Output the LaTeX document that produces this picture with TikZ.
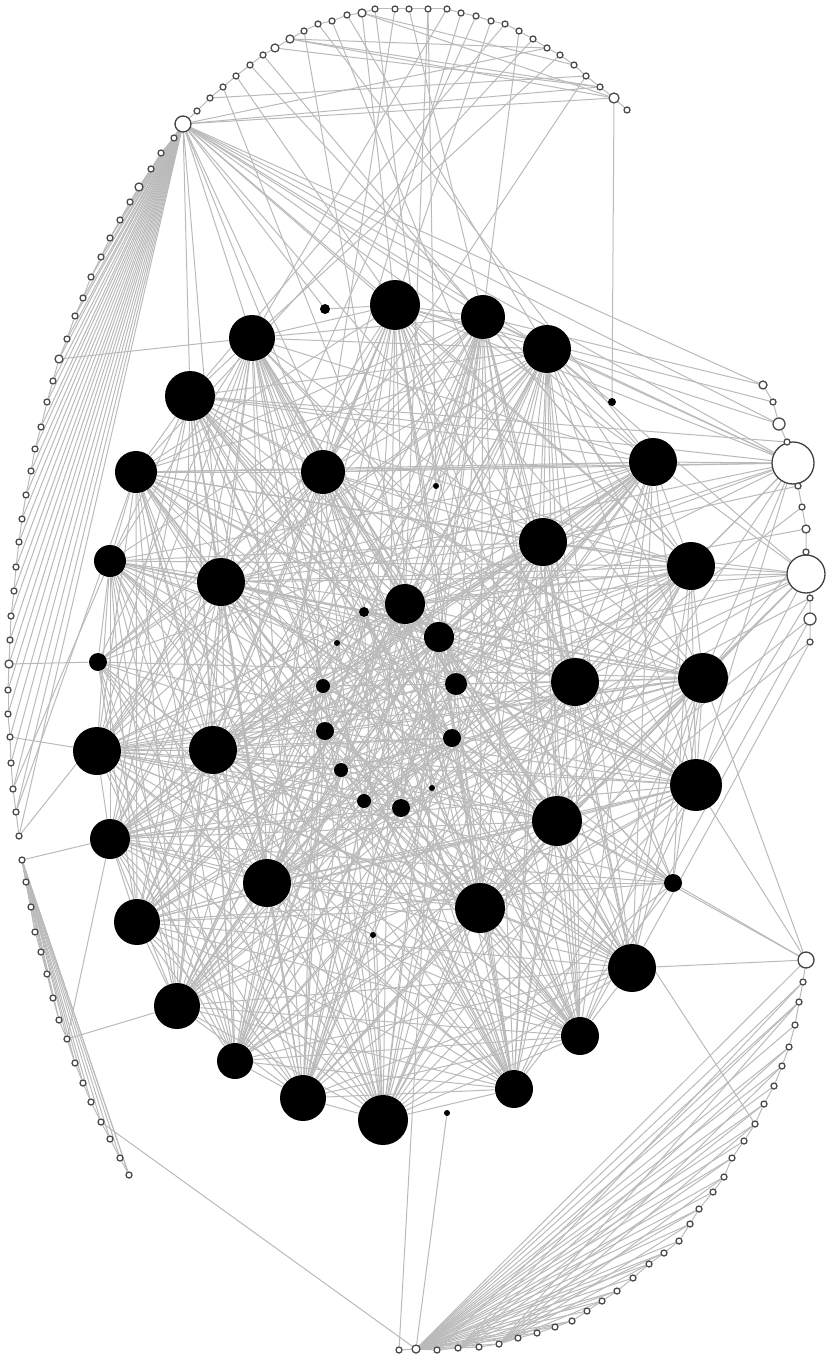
\documentclass[tikz,border=0pt]{standalone}
\usepackage{tikz}
\usetikzlibrary{backgrounds}

\begin{document}
\begin{tikzpicture}[x=0.5pt,y=-0.5pt,
  core/.style={circle,fill=black,draw=none,inner sep=0pt,minimum size=#1},
  leaf/.style={circle,draw=black!70,fill=white,line width=0.65pt,inner sep=0pt,minimum size=#1},
  hub/.style={circle,draw=black!75,fill=white,line width=0.65pt,inner sep=0pt,minimum size=#1},
  link/.style={draw=black!27,line width=0.5pt}
]
\useasboundingbox (0,0) rectangle (826,1358);

% core (black) nodes: name/x/y/radius
\foreach \n/\x/\y/\r in {1/395/305/25, 2/483/317/22, 3/547/349/24, 4/252/338/23,
  5/190/396/25, 6/136/472/21, 7/323/472/22, 8/653/462/24, 9/543/542/24,
  10/110/561/16, 11/221/582/24, 12/691/566/24, 13/405/604/20, 14/439/637/15,
  15/575/682/24, 16/703/678/25, 17/97/751/24, 18/213/750/24, 19/696/785/26,
  20/557/821/25, 21/110/839/20, 22/267/883/24, 23/480/908/25, 24/137/922/23,
  25/632/968/24, 26/177/1006/23, 27/580/1036/19, 28/235/1061/18, 29/303/1098/23,
  30/514/1089/19, 31/383/1120/25,
  32/456/684/11, 33/98/662/9, 34/452/738/9, 35/401/808/9, 36/325/731/9,
  37/673/883/9, 38/323/686/7, 39/341/770/7, 40/364/801/7, 41/364/612/5,
  42/325/309/5, 43/612/402/4, 44/436/486/3, 45/337/643/3, 46/432/788/3,
  47/373/935/3, 48/447/1113/3}
  \node[core=\r pt] (b\n) at (\x,\y) {};

% white hubs
\node[hub=8pt] (h1) at (183,124) {};
\node[hub=21pt] (h2) at (793,463) {};
\node[hub=19pt] (h3) at (806,574) {};
\node[hub=8pt] (h4) at (806,960) {};

% top arc
\foreach \n/\x/\y/\r in {1/197/111/3, 2/210/98/3, 3/223/87/3, 4/236/76/3, 5/250/65/3,
  6/263/55/3, 7/275/48/4, 8/290/39/4, 9/304/31/3, 10/318/24/3, 11/332/21/3,
  12/347/15/3, 13/362/13/4, 14/375/9/3, 15/395/9/3, 16/409/9/3, 17/428/9/3,
  18/447/9/3, 19/461/13/3, 20/476/16/3, 21/491/21/3, 22/505/24/3, 23/519/31/3,
  24/533/39/3, 25/547/48/3, 26/560/55/3, 27/574/65/3, 28/586/76/3, 29/600/87/3,
  30/614/98/5, 31/627/110/3}
  \node[leaf=\r pt] (t\n) at (\x,\y) {};

% left arc
\foreach \n/\x/\y/\r in {1/174/138/3, 2/161/153/3, 3/151/169/3, 4/139/187/4,
  5/130/202/3, 6/120/220/3, 7/110/238/3, 8/101/257/3, 9/91/277/3, 10/83/298/3,
  11/75/316/3, 12/67/339/3, 13/59/359/4, 14/53/381/3, 15/47/402/3, 16/41/427/3,
  17/35/449/3, 18/31/471/3, 19/26/495/3, 20/22/519/3, 21/19/542/3, 22/16/567/3,
  23/14/591/3, 24/11/616/3, 25/10/640/3, 26/9/664/4, 27/8/690/3, 28/8/714/3,
  29/10/737/3, 30/11/763/3, 31/13/789/3, 32/16/812/3, 33/19/836/3}
  \node[leaf=\r pt] (l\n) at (\x,\y) {};

% lower left arc
\foreach \n/\x/\y in {1/22/860, 2/26/882, 3/31/907, 4/35/932, 5/41/952, 6/47/974,
  7/53/998, 8/59/1020, 9/67/1039, 10/75/1063, 11/83/1083, 12/91/1102,
  13/101/1122, 14/110/1139, 15/120/1158, 16/129/1175}
  \node[leaf=3pt] (s\n) at (\x,\y) {};

% bottom arc
\foreach \n/\x/\y/\r in {1/399/1350/3, 2/416/1349/4, 3/437/1350/3, 4/458/1348/3,
  5/479/1347/3, 6/499/1344/3, 7/518/1338/3, 8/537/1333/3, 9/555/1327/3,
  10/572/1321/3, 11/587/1311/3, 12/602/1301/3, 13/617/1291/3, 14/633/1278/3,
  15/649/1264/3, 16/664/1253/3, 17/679/1241/3, 18/690/1224/3, 19/699/1209/3,
  20/713/1192/3, 21/724/1177/3, 22/732/1158/3, 23/744/1141/3, 24/755/1124/3,
  25/764/1104/3, 26/774/1086/3, 27/782/1066/3, 28/789/1047/3, 29/795/1025/3,
  30/799/1002/3, 31/803/982/3}
  \node[leaf=\r pt] (u\n) at (\x,\y) {};

% right column
\foreach \n/\x/\y/\r in {1/763/385/4, 2/773/402/3, 3/779/424/6, 4/787/442/3,
  5/798/486/3, 6/802/507/3, 7/806/529/4, 8/806/552/3, 9/810/598/3,
  10/810/619/6, 11/810/642/3}
  \node[leaf=\r pt] (r\n) at (\x,\y) {};

\begin{scope}[on background layer]
\pgfmathsetseed{314}
% dense core
\foreach \i in {1,...,30}{
  \pgfmathtruncatemacro\js{\i+1}
  \foreach \j in {\js,...,31}{
    \pgfmathtruncatemacro\hit{rnd<0.88}
    \ifnum\hit=1 \draw[link] (b\i) -- (b\j); \fi
  }}
\foreach \i in {32,...,41}{
  \foreach \j in {1,...,31}{
    \pgfmathtruncatemacro\hit{rnd<0.45}
    \ifnum\hit=1 \draw[link] (b\i) -- (b\j); \fi
  }}

% arcs
\foreach \i in {1,...,30}{\pgfmathtruncatemacro\k{\i+1}\draw[link] (t\i) -- (t\k);}
\foreach \i in {1,...,32}{\pgfmathtruncatemacro\k{\i+1}\draw[link] (l\i) -- (l\k);}
\foreach \i in {1,...,15}{\pgfmathtruncatemacro\k{\i+1}\draw[link] (s\i) -- (s\k);}
\foreach \i in {1,...,30}{\pgfmathtruncatemacro\k{\i+1}\draw[link] (u\i) -- (u\k);}
\draw[link] (h1) -- (t1) (h1) -- (l1) (u31) -- (h4);
\draw[link] (r1) -- (r2) -- (r3) -- (r4) -- (h2) -- (r5) -- (r6) -- (r7) -- (r8)
  -- (h3) -- (r9) -- (r10) -- (r11);

% fans
\foreach \i in {3,...,33} \draw[link] (h1) -- (l\i);
\foreach \i in {3,...,16} \draw[link] (s1) -- (s\i);
\foreach \i in {5,...,31} \draw[link] (u2) -- (u\i);
\foreach \i in {10,13,...,31} \draw[link] (u4) -- (u\i);
\foreach \i in {12,15,...,30} \draw[link] (u6) -- (u\i);

% hub links
\foreach \a/\b in {h1/b5, h1/b1, h1/b2, h1/b3, h1/b4, h1/b7, h1/b8, h1/b9,
  h1/b12, h1/b13, h1/b11, h1/b42, h1/r1, h1/r3, h1/h2, h1/t29, h1/t30, h1/t25,
  h2/b8, h2/b3, h2/b2, h2/b1, h2/b9, h2/b12, h2/b15, h2/b16, h2/b7, h2/b11,
  h2/b13, h2/b5, h2/b6, h2/b14, h2/b19, h2/b20,
  h3/b12, h3/b16, h3/b15, h3/b9, h3/b19, h3/b13, h3/b11, h3/b17, h3/b8,
  h3/b3, h3/b20, h3/b23, h3/b22, h3/b18,
  h4/b19, h4/b37, h4/b25, h4/b20, h4/b16, h4/u2, u30/u3, b20/u24,
  r1/b2, r2/b1, r3/b3, r4/b5, r5/b9, r6/b15, r7/b13, r8/b16, r9/b19,
  r10/b20, r11/b23, r11/b25, r10/b27, r9/b22}
  \draw[link] (\a) -- (\b);

% top arc to core
\foreach \a/\b in {t8/t30, t7/t29, t8/t29, t13/t30, t2/t28, t13/t27, t8/t25,
  t13/b1, t14/b44, t15/b7, t16/b2, t17/b44, t17/b13, t18/b4, t19/b7, t20/b11,
  t21/b1, t22/b5, t23/b2, t24/b6, t12/b3, t11/b9, t10/b8, t9/b13, t6/b12,
  t5/b2, t26/b4, t28/b7, t4/b1, t3/b14, t30/b43}
  \draw[link] (\a) -- (\b);

% left side to core
\foreach \a/\b in {l26/b33, l29/b17, l31/b10, l32/b6, l13/b4, l33/b11,
  s9/b21, s9/b26, s13/u2, s1/s16, s1/b21,
  b42/b1, b43/b3, b45/b13, b45/b18, b46/b15, b46/b13, b47/b22, b47/b31,
  b48/u2, u1/b14}
  \draw[link] (\a) -- (\b);
\end{scope}
\end{tikzpicture}
\end{document}
